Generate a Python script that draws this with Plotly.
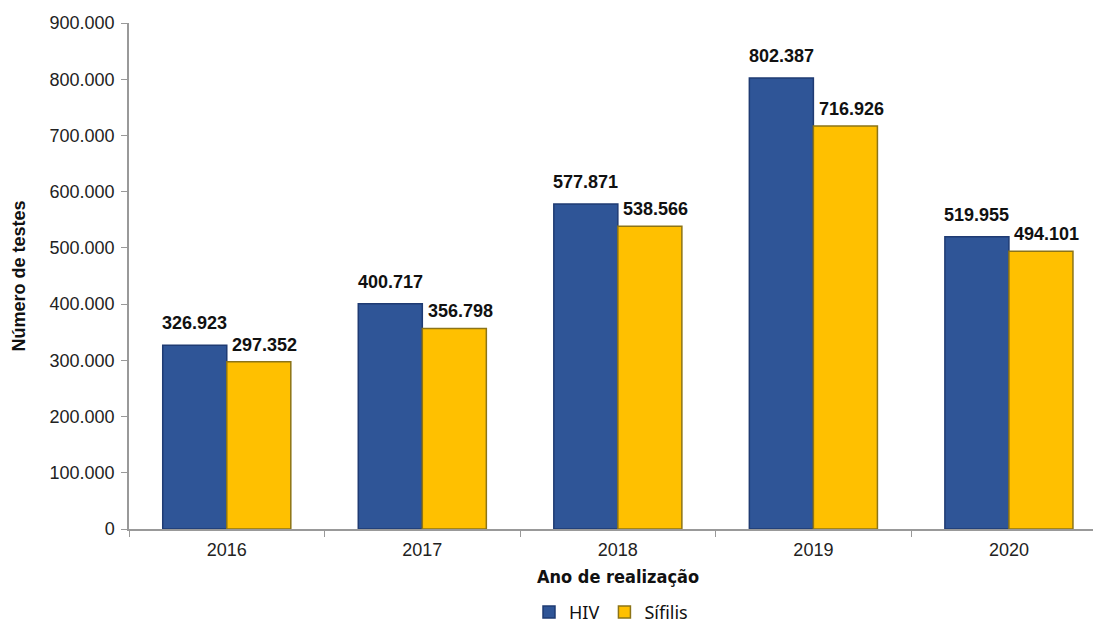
import plotly.graph_objects as go

anos = ["2016", "2017", "2018", "2019", "2020"]
hiv = [326923, 400717, 577871, 802387, 519955]
sifilis = [297352, 356798, 538566, 716926, 494101]
y_ticks = [0, 100000, 200000, 300000, 400000, 500000, 600000, 700000, 800000, 900000]

def fmt(v):
    return f"{v:,}".replace(",", ".")

fig = go.Figure()
fig.add_bar(name="HIV", x=anos, y=hiv, marker=dict(color="#2F5597", line=dict(color="#1F3B73", width=1.5)))
fig.add_bar(name="Sífilis", x=anos, y=sifilis, marker=dict(color="#FFC000", line=dict(color="#8C7417", width=1.5)))

lab_font = dict(family="Liberation Sans, Arial", size=18, color="#111")
for i, a in enumerate(anos):
    fig.add_annotation(x=i, y=hiv[i], text=f"<b>{fmt(hiv[i])}</b>", showarrow=False,
                       xref="x", yref="y", yanchor="middle", xshift=-32, yshift=22, font=lab_font)
    fig.add_annotation(x=i, y=sifilis[i], text=f"<b>{fmt(sifilis[i])}</b>", showarrow=False,
                       xref="x", yref="y", yanchor="middle", xshift=38, yshift=17, font=lab_font)

fig.add_annotation(x=2, y=0, xref="x", yref="paper", yanchor="middle", yshift=-47,
                   text="<b>Ano de realização</b>", showarrow=False,
                   font=dict(family="DejaVu Sans Condensed, DejaVu Sans", size=18, color="#111"))

fig.update_layout(
    width=1094, height=626,
    margin=dict(l=129, r=1, t=23, b=97),
    plot_bgcolor="white", paper_bgcolor="white",
    barmode="group", bargap=0.345, bargroupgap=0,
    showlegend=True,
    legend=dict(orientation="h", xref="paper", x=0.5, xanchor="center",
                yref="container", y=0.022, yanchor="middle",
                font=dict(family="Noto Sans, Open Sans", size=18, color="#111"),
                itemwidth=30, traceorder="normal"),
    font=dict(family="Liberation Sans, Arial", size=18, color="#222"),
)
fig.update_xaxes(type="category", range=[-0.5, 4.43], showline=True, linecolor="#999", linewidth=1.5,
                 ticks="outside", tickson="boundaries", ticklen=6, tickcolor="#999",
                 ticklabelstandoff=4,
                 tickfont=dict(family="Liberation Sans, Arial", size=18, color="#222"),
                 showgrid=False)
fig.update_yaxes(range=[0, 900000], tickvals=y_ticks, ticktext=[fmt(v) for v in y_ticks],
                 showline=True, linecolor="#999", linewidth=1.5, ticks="outside", ticklen=6,
                 tickcolor="#999", showgrid=False, zeroline=False, ticklabelstandoff=3,
                 tickfont=dict(family="Liberation Sans, Arial", size=18, color="#222"),
                 title=dict(text="<b>Número de testes</b>", standoff=19,
                            font=dict(family="Liberation Sans, Arial", size=18, color="#111")))

fig.write_html("out.html", config={"displayModeBar": False},
               post_script="document.body.style.margin='0';")
